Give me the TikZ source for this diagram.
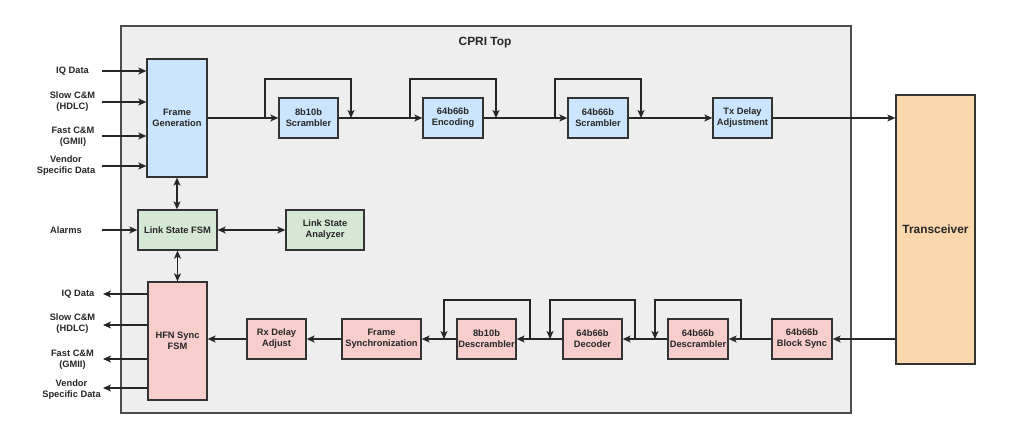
\documentclass[tikz,border=0pt]{standalone}
\usepackage{fontspec}
\setmainfont{Liberation Sans}
\usetikzlibrary{arrows.meta}
\definecolor{bgc}{HTML}{EEEEEE}
\definecolor{bluec}{HTML}{CCE5FF}
\definecolor{greenc}{HTML}{D5E8D4}
\definecolor{pinkc}{HTML}{F8CECC}
\definecolor{orangec}{HTML}{FAD7AC}
\definecolor{edgec}{HTML}{333333}
\tikzset{
  blk/.style={draw=edgec, line width=1.3pt, rectangle, align=center, inner sep=0pt,
    font=\fontsize{9.3}{11}\selectfont\bfseries, text=black!85},
  bluebox/.style={blk, fill=bluec},
  greenbox/.style={blk, fill=greenc},
  pinkbox/.style={blk, fill=pinkc},
  lbl/.style={align=center, inner sep=0pt, font=\fontsize{9.3}{11}\selectfont\bfseries, text=black!85},
  conn/.style={draw=black!85, line width=1.3pt},
  arr/.style={conn, -{Stealth[length=8pt,width=7pt,inset=2pt]}},
  darr/.style={conn, {Stealth[length=8pt,width=7pt,inset=2pt]}-{Stealth[length=8pt,width=7pt,inset=2pt]}},
}
\begin{document}
\begin{tikzpicture}[x=1pt,y=-1pt]
\useasboundingbox (0,0) rectangle (1024,439);
% container
\node[draw=black!70, line width=1.3pt, fill=bgc, minimum width=730pt, minimum height=387pt, inner sep=0pt] (top) at (486,219.5) {};
\node[lbl, font=\fontsize{11.9}{13}\selectfont\bfseries] (toptitle) at (485,43) {CPRI Top};

% TX chain
\node[bluebox, minimum width=60pt, minimum height=118pt] (fg) at (177,118) {Frame\\Generation};
\node[bluebox, minimum width=59pt, minimum height=40pt] (scr) at (308.5,118) {8b10b\\Scrambler};
\node[bluebox, minimum width=60pt, minimum height=40pt] (enc) at (453,118) {64b66b\\Encoding};
\node[bluebox, minimum width=60pt, minimum height=40pt] (scr2) at (598,118) {64b66b\\Scrambler};
\node[bluebox, minimum width=59pt, minimum height=40pt] (txd) at (742.5,118) {Tx Delay\\Adjustment};
\node[blk, fill=orangec, minimum width=79pt, minimum height=269pt, font=\fontsize{11.9}{13}\selectfont\bfseries] (trx) at (935.5,229.5) {Transceiver};

% link state
\node[greenbox, minimum width=79pt, minimum height=40pt] (lsfm) at (177.5,230) {Link State FSM};
\node[greenbox, minimum width=78pt, minimum height=40pt] (lsa) at (325,230) {Link State\\Analyzer};

% RX chain
\node[pinkbox, minimum width=59pt, minimum height=118pt] (hfn) at (177.5,341) {HFN Sync\\FSM};
\node[pinkbox, minimum width=59pt, minimum height=40pt] (rxd) at (276.5,339) {Rx Delay\\Adjust};
\node[pinkbox, minimum width=79pt, minimum height=40pt] (fsync) at (381.5,339) {Frame\\Synchronization};
\node[pinkbox, minimum width=59pt, minimum height=40pt] (dscr) at (486.5,339) {8b10b\\Descrambler};
\node[pinkbox, minimum width=59pt, minimum height=40pt] (dec) at (592.5,339) {64b66b\\Decoder};
\node[pinkbox, minimum width=60pt, minimum height=40pt] (dscr2) at (698,339) {64b66b\\Descrambler};
\node[pinkbox, minimum width=60pt, minimum height=40pt] (bsync) at (802,339) {64b66b\\Block Sync};

% input labels
\node[lbl] (liq) at (72.5,71) {IQ Data};
\node[lbl] (lslow) at (72.5,101.5) {Slow C\&M\\(HDLC)};
\node[lbl] (lfast) at (73,136.5) {Fast C\&M\\(GMII)};
\node[lbl] (lvend) at (66,166) {Vendor\\Specific Data};
\node[lbl] (lalarm) at (66,230) {Alarms};
\coordinate (i1) at (102,71);
\coordinate (i2) at (102,102);
\coordinate (i3) at (102,136);
\coordinate (i4) at (102,166);
\coordinate (i5) at (102,230);
\draw[arr] (i1) -- (i1 -| fg.west);
\draw[arr] (i2) -- (i2 -| fg.west);
\draw[arr] (i3) -- (i3 -| fg.west);
\draw[arr] (i4) -- (i4 -| fg.west);
\draw[arr] (i5) -- (lsfm.west);

% output labels
\node[lbl] (oiq) at (78,294) {IQ Data};
\node[lbl] (oslow) at (72.5,324) {Slow C\&M\\(HDLC)};
\node[lbl] (ofast) at (72.5,359.5) {Fast C\&M\\(GMII)};
\node[lbl] (ovend) at (71.5,390) {Vendor\\Specific Data};
\coordinate (o1) at (103,294);
\coordinate (o2) at (103,325);
\coordinate (o3) at (103,359);
\coordinate (o4) at (103,388);
\draw[arr] (o1 -| hfn.west) -- (o1);
\draw[arr] (o2 -| hfn.west) -- (o2);
\draw[arr] (o3 -| hfn.west) -- (o3);
\draw[arr] (o4 -| hfn.west) -- (o4);

% vertical / link-state connections
\draw[darr] (fg.south) -- (lsfm.north -| fg.south);
\draw[darr] (lsfm.south) -- (hfn.north -| lsfm.south);
\draw[darr] (lsfm.east) -- (lsa.west);

% TX main path with bypass loops
\draw[arr] (fg.east) -- (scr.west);
\draw[arr] (scr.east) -- (enc.west);
\draw[arr] (enc.east) -- (scr2.west);
\draw[arr] (scr2.east) -- (txd.west);
\draw[arr] (txd.east) -- (txd.east -| trx.west);
\coordinate (b1) at (265,118);
\coordinate (b2) at (410,118);
\coordinate (b3) at (555,118);
\draw[arr] (b1) |- (351,79) -- (351,118);
\draw[arr] (b2) |- (496,79) -- (496,118);
\draw[arr] (b3) |- (641,79) -- (641,118);

% RX main path with bypass loops
\draw[arr] (bsync.east -| trx.west) -- (bsync.east);
\draw[arr] (bsync.west) -- (dscr2.east);
\draw[arr] (dscr2.west) -- (dec.east);
\draw[arr] (dec.west) -- (dscr.east);
\draw[arr] (dscr.west) -- (fsync.east);
\draw[arr] (fsync.west) -- (rxd.east);
\draw[arr] (rxd.west) -- (rxd.west -| hfn.east);
\coordinate (c1) at (741,339);
\coordinate (c2) at (635,339);
\coordinate (c3) at (530,339);
\draw[arr] (c1) |- (655,300) -- (655,339);
\draw[arr] (c2) |- (550,300) -- (550,339);
\draw[arr] (c3) |- (444,300) -- (444,339);
\end{tikzpicture}
\end{document}
